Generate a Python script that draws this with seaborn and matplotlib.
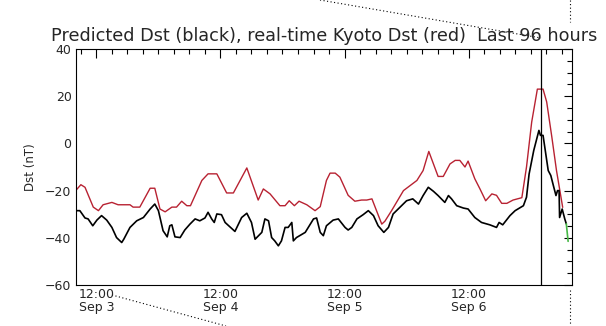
import numpy as np
import pandas as pd
import matplotlib
matplotlib.use("Agg")
import matplotlib.pyplot as plt
import seaborn as sns
from matplotlib.lines import Line2D
from matplotlib.ticker import FixedLocator, MultipleLocator

# Time is in hours from 08:00 on Sep 3; the window covers the last 96 hours.
kyoto_hours = [0.0, 1.0, 1.8, 3.4, 4.4, 5.3, 7.0, 8.2, 10.5, 11.1, 12.4, 14.4, 15.3,
               16.3, 17.3, 18.6, 19.5, 20.5, 21.5, 22.2, 24.4, 25.6, 27.3, 29.2, 30.5,
               33.1, 35.3, 36.3, 37.6, 39.5, 40.5, 41.3, 42.3, 43.2, 44.7, 46.3, 47.3,
               48.5, 49.2, 50.2, 51.1, 52.7, 54.0, 55.3, 56.3, 57.3, 59.2, 59.8, 61.1,
               63.4, 66.0, 67.2, 68.3, 70.1, 71.1, 72.4, 73.4, 74.3, 75.3, 75.9, 77.2,
               78.2, 79.3, 80.5, 81.4, 82.4, 83.4, 84.6, 86.3, 87.2, 88.2, 89.3, 90.4,
               91.1, 92.1, 93.0, 94.2]
kyoto_dst = [-20.0, -17.5, -18.6, -27.0, -28.5, -26.0, -25.0, -26.0, -26.0, -27.0, -27.0,
             -19.0, -19.0, -27.8, -29.0, -27.0, -27.0, -24.5, -26.4, -26.4, -15.7, -12.9,
             -12.9, -21.0, -21.0, -10.4, -24.0, -19.3, -21.4, -26.4, -26.4, -24.3, -26.4,
             -24.5, -26.0, -28.5, -26.8, -15.7, -12.6, -12.6, -14.3, -22.0, -24.5, -24.0,
             -24.0, -23.5, -34.2, -33.0, -28.5, -20.0, -15.7, -11.5, -3.4, -14.0, -14.0,
             -8.7, -7.2, -7.2, -10.0, -7.5, -15.0, -19.3, -24.3, -21.4, -22.0, -25.4,
             -25.4, -24.0, -23.0, -10.0, 9.0, 23.0, 23.0, 17.6, 2.7, -11.5, -27.1]

pred_hours = [0.0, 0.8, 1.8, 2.4, 3.3, 4.1, 5.0, 6.0, 7.0, 7.9, 8.9, 9.3, 10.5, 11.8,
              13.1, 14.4, 15.3, 16.0, 16.9, 17.7, 18.2, 18.6, 19.2, 20.2, 21.1, 22.1,
              23.1, 24.0, 25.0, 25.6, 26.3, 26.8, 27.3, 28.2, 28.9, 30.8, 32.1, 33.1,
              34.0, 34.7, 36.0, 36.6, 37.3, 37.9, 38.5, 39.2, 39.8, 40.5, 41.1, 41.8,
              42.1, 42.7, 44.4, 46.0, 46.6, 47.3, 47.9, 48.5, 49.8, 50.8, 52.1, 52.7,
              53.4, 54.4, 55.6, 56.6, 57.6, 58.5, 59.6, 60.5, 61.4, 62.7, 64.0, 65.2,
              66.3, 67.2, 68.2, 69.2, 70.1, 71.4, 72.1, 72.7, 73.7, 75.0, 75.9, 77.2,
              78.5, 80.1, 81.4, 81.9, 82.6, 84.0, 85.0, 86.6, 87.2, 87.7, 88.6, 89.6,
              89.9, 90.4, 91.4, 91.9, 92.4, 92.9, 93.2, 93.5, 93.6, 94.1, 94.6, 94.9]
pred_dst = [-28.5, -28.5, -31.6, -32.0, -34.9, -32.5, -30.6, -32.5, -35.6, -39.9, -42.0,
            -40.6, -35.6, -32.8, -31.4, -27.8, -25.7, -28.5, -37.0, -39.6, -34.9, -34.5,
            -39.6, -39.9, -36.7, -34.2, -32.0, -32.8, -31.6, -29.2, -32.0, -33.5, -29.9,
            -30.2, -33.5, -37.3, -31.4, -29.6, -33.5, -40.6, -37.7, -32.0, -32.8, -39.9,
            -41.3, -43.4, -41.3, -35.6, -35.6, -33.5, -41.3, -39.9, -37.7, -32.0, -31.6,
            -37.7, -39.1, -34.9, -32.5, -32.0, -35.6, -36.7, -35.6, -32.0, -30.2, -28.5,
            -30.6, -34.9, -37.7, -35.6, -29.9, -27.1, -24.3, -23.5, -25.7, -22.1, -18.6,
            -20.3, -22.1, -25.0, -22.1, -23.5, -26.4, -27.4, -27.8, -31.4, -33.5, -34.5,
            -35.6, -33.5, -34.5, -30.6, -28.5, -26.4, -22.8, -13.0, -3.0, 5.5, 3.4, 3.4,
            -11.5, -13.6, -17.9, -22.1, -20.0, -20.0, -31.4, -27.8, -32.0, -34.1]

# short-range forecast continuation of the predicted series
forecast_hours = [94.9, 95.25]
forecast_dst = [-34.1, -41.5]

now_hour = 90
tick_hours = [4, 28, 52, 76]
tick_labels = ["12:00\nSep 3", "12:00\nSep 4", "12:00\nSep 5", "12:00\nSep 6"]
title_text = "Predicted Dst (black), real-time Kyoto Dst (red)  Last 96 hours"

sns.set_style("white")
plt.rcParams["font.family"] = ["DejaVu Sans"]

W, H = 606, 326
fig = plt.figure(figsize=(W / 100, H / 100), dpi=100)
ax = fig.add_axes([75.7 / W, 1 - 285 / H, (572 - 75.7) / W, (285 - 49) / H])

kyoto = pd.DataFrame({"hour": kyoto_hours, "dst": kyoto_dst})
pred = pd.DataFrame({"hour": pred_hours, "dst": pred_dst})
fcst = pd.DataFrame({"hour": forecast_hours, "dst": forecast_dst})

sns.lineplot(data=kyoto, x="hour", y="dst", color="#b82232", linewidth=1.0,
             estimator=None, sort=False, ax=ax)
sns.lineplot(data=pred, x="hour", y="dst", color="black", linewidth=1.2,
             estimator=None, sort=False, ax=ax)
sns.lineplot(data=fcst, x="hour", y="dst", color="#46b846", linewidth=1.2,
             estimator=None, sort=False, ax=ax)
ax.axvline(now_hour, color="black", linewidth=0.9)

ax.set_xlim(0, 96)
ax.set_ylim(-60, 40)
ax.set_xticks(tick_hours)
ax.set_xticklabels(tick_labels)
ax.xaxis.set_minor_locator(FixedLocator(np.arange(1, 96, 3)))
ax.yaxis.set_major_locator(MultipleLocator(20))
ax.yaxis.set_minor_locator(MultipleLocator(5))
ax.set_xlabel("")
ax.set_ylabel("Dst (nT)", fontsize=8.5, labelpad=6)

for s in ax.spines.values():
    s.set_visible(True)
    s.set_linewidth(0.8)
    s.set_color("black")

ax.tick_params(which="both", direction="in", top=True, right=True, color="black",
               width=0.8)
ax.tick_params(axis="x", which="major", length=6.5, pad=2.5, labelsize=9)
ax.tick_params(axis="x", which="minor", length=3.6)
ax.tick_params(axis="y", which="major", length=6.0, pad=3, labelsize=9)
ax.tick_params(axis="y", which="minor", length=3.4)
for lbl in ax.get_xticklabels():
    lbl.set_linespacing(0.95)

fig.text((75.7 + 572) / 2 / W, 1 - 36 / H, title_text, ha="center", va="center",
         fontsize=12.7)

# dotted connector marks around the panel
def fig_dotted(xs, ys):
    fig.add_artist(Line2D([x / W for x in xs], [1 - y / H for y in ys],
                          transform=fig.transFigure, color="black", linewidth=0.8,
                          linestyle=(0, (1, 2.2)), zorder=0))

fig_dotted([320, 541], [0, 38])
fig_dotted([569.5, 569.5], [0, 22])
fig_dotted([112, 226], [295, 326])
fig_dotted([570, 570], [290, 326])

fig.savefig("out.png", dpi=100)
